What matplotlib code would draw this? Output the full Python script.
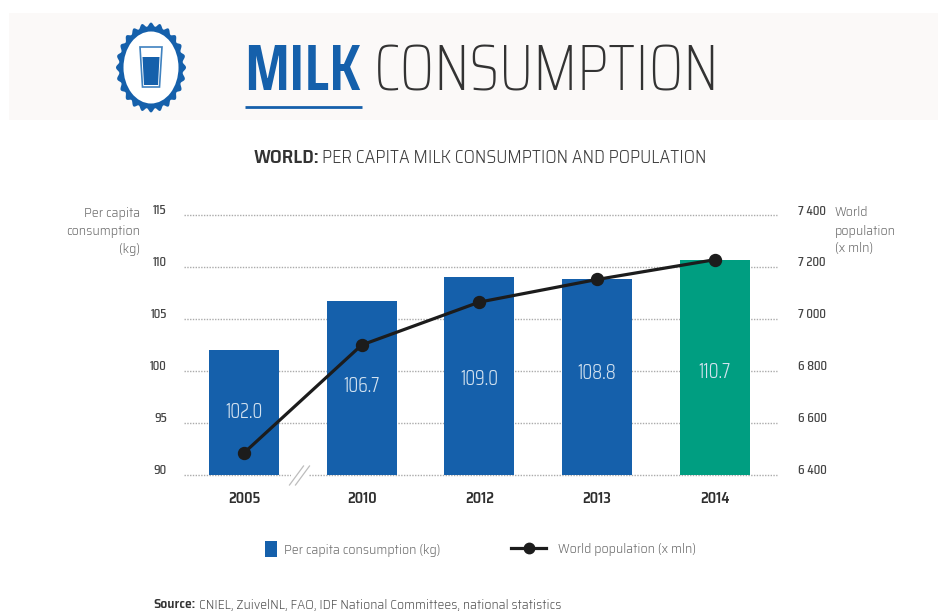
import numpy as np
import matplotlib
matplotlib.use("Agg")
import matplotlib.pyplot as plt
from matplotlib.lines import Line2D
from matplotlib.patches import Ellipse, Patch, Polygon, Rectangle
from matplotlib.transforms import ScaledTranslation

# Chart data
years = ["2005", "2010", "2012", "2013", "2014"]
consumption_kg = [102.0, 106.7, 109.0, 108.8, 110.7]
population_mln = [6485, 6900, 7065, 7152, 7228]
left_ticks = [90, 95, 100, 105, 110, 115]
right_ticks = [6400, 6600, 6800, 7000, 7200, 7400]
right_tick_labels = ["6 400", "6 600", "6 800", "7 000", "7 200", "7 400"]

# Heights (in kg) at which the value labels sit inside the bars
value_label_heights = [96.05, 98.55, 99.25, 99.8, 99.9]

BLUE = "#1560ab"
GREEN = "#009e81"
DARK = "#1c1c1c"
TICK = "#444444"
LABEL = "#6f6f6f"
NARROW = ["Saira Condensed", "Liberation Sans Narrow", "DejaVu Sans"]
SEMI = ["Saira SemiCondensed", "Liberation Sans Narrow", "DejaVu Sans"]
plt.rcParams["font.family"] = SEMI

W, H = 938, 612
fig = plt.figure(figsize=(W / 100, H / 100), dpi=100, facecolor="white")

# Full-figure layer in pixel units for the header, logo and footer
page = fig.add_axes([0, 0, 1, 1], zorder=0)
page.set_xlim(0, W)
page.set_ylim(H, 0)
page.axis("off")

page.add_patch(Rectangle((9, 13), W - 9, 107, fc="#fbf9f8", ec="none"))

# Scalloped badge with a glass of milk
cx, cy = 151, 67.5
theta = np.linspace(0, 2 * np.pi, 481)
edge = 1 + 0.045 * np.cos(24 * theta)
page.add_patch(Polygon(np.c_[cx + 33.5 * edge * np.cos(theta),
                             cy + 43 * edge * np.sin(theta)], fc=BLUE, ec="none"))
page.add_patch(Ellipse((cx, cy), 55, 72, fc="white", ec="none"))
page.add_patch(Polygon([(140, 47), (162, 47), (159.5, 87), (142.5, 87)],
                       fc="white", ec="#3f82c0", lw=1.2))
page.add_patch(Polygon([(142.5, 57), (159.5, 57), (158, 85), (144, 85)],
                       fc=BLUE, ec="none"))

page.text(244, 90, "MILK", color=BLUE, fontsize=47, fontweight=600, family=NARROW,
          va="baseline", ha="left")
page.text(374, 90.5, "CONSUMPTION", color="#333333", fontsize=47.5, fontweight=250, family=NARROW,
          va="baseline", ha="left")
page.plot([245, 362], [106.5, 106.5], color=BLUE, lw=2, solid_capstyle="butt")

page.text(254, 158, "WORLD:", color="#333333", fontsize=14, fontweight=600, va="center", ha="left")
page.text(322, 158, "PER CAPITA MILK CONSUMPTION AND POPULATION", color="#3c3c3c",
          fontsize=13.1, fontweight=300, va="center", ha="left")

page.text(140, 231, "Per capita\nconsumption\n(kg)", color=LABEL, fontsize=10.05, fontweight=300,
          ha="right", va="center", linespacing=1.5)
page.text(835, 231, "World\npopulation\n(x mln)", color=LABEL, fontsize=10.05, fontweight=300,
          ha="left", va="center", linespacing=1.5)

# Main chart: y = 90 sits at pixel row 475, y = 115 at row 215
ax = fig.add_axes([184 / W, 1 - 475 / H, (777 - 184) / W, 260 / H], zorder=1)
ax.patch.set_alpha(0)
x = np.arange(len(years))
ax.set_xlim(-0.51, 4.53)
ax.set_ylim(90, 115)
for s in ax.spines.values():
    s.set_visible(False)
ax.set_axisbelow(True)
ax.yaxis.grid(True, color="#ababab", lw=1.0, linestyle=(0, (1, 1)), clip_on=False)
ax.xaxis.grid(False)

colors = [BLUE, BLUE, BLUE, BLUE, GREEN]
ax.bar(x, consumption_kg, width=70 / 117.6, color=colors, zorder=2)
for xi, v, h in zip(x, consumption_kg, value_label_heights):
    ax.text(xi, h, f"{v:.1f}", color="#d4e3f0", fontsize=14.5, fontweight=300, family=NARROW,
            ha="center", va="center", zorder=5)

ax.set_xticks(x, years)
ax.tick_params(axis="x", length=0, pad=12, labelcolor="#2e2e2e", labelsize=10.5)
for t in ax.get_xticklabels():
    t.set_fontweight(600)

ax.set_yticks(left_ticks)
ax.tick_params(axis="y", length=0, pad=12.5, labelcolor=TICK, labelsize=10)
up = ScaledTranslation(0, 5.5 / 100, fig.dpi_scale_trans)
for t in ax.get_yticklabels():
    t.set_fontweight(500)
    t.set_family(NARROW)
    t.set_transform(t.get_transform() + up)

ax2 = ax.twinx()
ax2.patch.set_alpha(0)
ax2.set_ylim(6400, 7400)
for s in ax2.spines.values():
    s.set_visible(False)
ax2.set_yticks(right_ticks, right_tick_labels)
ax2.tick_params(axis="y", length=0, pad=15, labelcolor=TICK, labelsize=10)
for t in ax2.get_yticklabels():
    t.set_fontweight(500)
    t.set_family(NARROW)
    t.set_transform(t.get_transform() + up)
ax2.plot(x, population_mln, color=DARK, lw=2.3, marker="o", ms=8.6, zorder=6, clip_on=False)

# Break in the time axis between 2005 and 2010
top = fig.add_axes([0, 0, 1, 1], zorder=2)
top.set_xlim(0, W)
top.set_ylim(H, 0)
top.axis("off")
top.add_patch(Rectangle((291, 473), 18, 4, fc="white", ec="none"))
for dx in (0, 6):
    top.plot([289.5 + dx, 303.5 + dx], [485, 466], color="#bdbdbd", lw=0.9)

# Legends
legend_font = {"size": 10, "weight": 300, "family": SEMI}
leg1 = top.legend(handles=[Patch(fc=BLUE, ec="none", label="Per capita consumption (kg)")],
                  loc="center left", bbox_to_anchor=(265 / W, 1 - 549 / H),
                  bbox_transform=fig.transFigure, frameon=False, borderpad=0, borderaxespad=0,
                  handlelength=0.87, handleheight=1.3, handletextpad=0.51,
                  labelcolor=LABEL, prop=legend_font)
top.add_artist(leg1)
top.legend(handles=[Line2D([], [], color=DARK, lw=2.3, marker="o", ms=7.5,
                           label="World population (x mln)")],
           loc="center left", bbox_to_anchor=(511 / W, 1 - 549 / H),
           bbox_transform=fig.transFigure, frameon=False, borderpad=0, borderaxespad=0,
           handlelength=2.52, handletextpad=0.87,
           labelcolor=LABEL, prop=legend_font)

# Source note
page.text(153, 605, "Source:", color="#333333", fontsize=9.9, fontweight=600, va="center", ha="left")
page.text(199, 605, "CNIEL, ZuivelNL, FAO, IDF National Committees, national statistics",
          color="#555555", fontsize=9.9, fontweight=300, va="center", ha="left")

fig.savefig("out.png", dpi=100)
